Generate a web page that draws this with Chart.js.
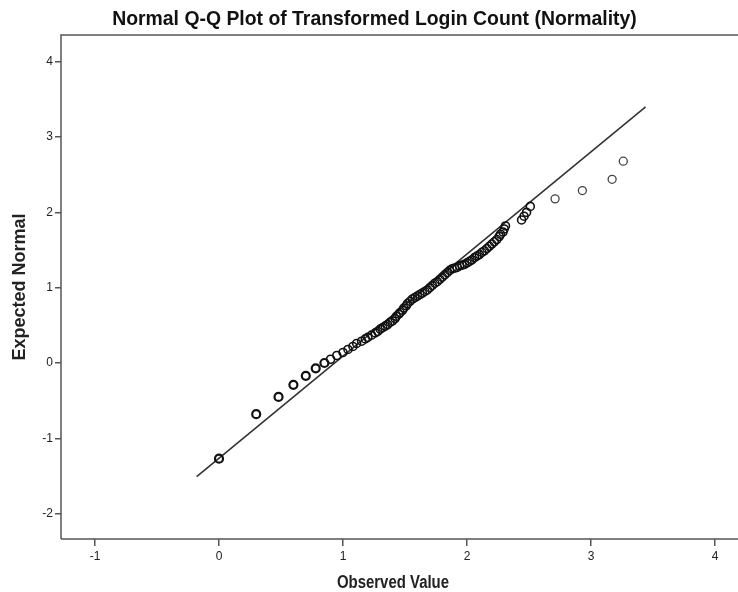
<!DOCTYPE html>
<html>
<head>
<meta charset="utf-8">
<script src="https://cdn.jsdelivr.net/npm/chart.js@4.4.1/dist/chart.umd.min.js"></script>
<style>
  html, body { margin: 0; padding: 0; background: #fff; overflow: hidden; }
  #wrap { width: 738px; height: 592px; }
  canvas { display: block; }
</style>
</head>
<body>
<div id="wrap"><canvas id="qq" width="738" height="592"></canvas></div>
<script>
// Q-Q plot values
const chartTitle = 'Normal Q-Q Plot of Transformed Login Count (Normality)';
const xTitle = 'Observed Value';
const yTitle = 'Expected Normal';
const xTicks = [-1, 0, 1, 2, 3, 4];
const yTicks = [-2, -1, 0, 1, 2, 3, 4];

const observed = [
  0.00, 0.30, 0.48, 0.60, 0.70, 0.78, 0.85, 0.90, 0.95, 1.00,
  1.04, 1.08, 1.11, 1.15, 1.18, 1.20, 1.23, 1.26, 1.28, 1.30,
  1.32, 1.34, 1.36, 1.38, 1.40, 1.42, 1.43, 1.45, 1.46, 1.48,
  1.49, 1.51, 1.52, 1.54, 1.56, 1.58, 1.60, 1.62, 1.64, 1.66,
  1.68, 1.70, 1.72, 1.74, 1.76, 1.78, 1.80, 1.82, 1.84, 1.86,
  1.88, 1.90, 1.92, 1.94, 1.96, 1.98, 2.00, 2.02, 2.04, 2.06,
  2.08, 2.10, 2.12, 2.14, 2.16, 2.18, 2.20, 2.22, 2.24, 2.26,
  2.27, 2.29, 2.30, 2.31, 2.44, 2.46, 2.48, 2.51, 2.71, 2.93,
  3.17, 3.26
];
const expected = [
  -1.27, -0.68, -0.45, -0.29, -0.17, -0.07, 0.00, 0.05, 0.10, 0.14,
  0.18, 0.22, 0.26, 0.29, 0.32, 0.34, 0.37, 0.40, 0.42, 0.45,
  0.47, 0.49, 0.51, 0.54, 0.56, 0.59, 0.62, 0.65, 0.67, 0.70,
  0.73, 0.76, 0.79, 0.82, 0.85, 0.87, 0.89, 0.91, 0.93, 0.95,
  0.97, 1.00, 1.03, 1.06, 1.08, 1.11, 1.14, 1.17, 1.20, 1.23,
  1.25, 1.26, 1.27, 1.29, 1.30, 1.31, 1.33, 1.35, 1.37, 1.40,
  1.42, 1.44, 1.47, 1.49, 1.52, 1.55, 1.58, 1.61, 1.64, 1.68,
  1.71, 1.74, 1.78, 1.82, 1.90, 1.95, 2.00, 2.08, 2.18, 2.29,
  2.44, 2.68
];

// reference line end points
const lineX = [-0.18, 3.44];
const lineY = [-1.51, 3.40];

const fontFamily = '"Liberation Sans", Arial, sans-serif';
Chart.defaults.font.family = fontFamily;
Chart.defaults.color = '#222';

// frame, chart title and a narrow bold x-axis title
const framePlugin = {
  id: 'frame',
  afterDraw(chart) {
    const { ctx, chartArea: a } = chart;
    ctx.save();
    ctx.strokeStyle = '#555';
    ctx.lineWidth = 1.5;
    ctx.beginPath();
    ctx.moveTo(a.left, a.bottom);
    ctx.lineTo(a.left, a.top);
    ctx.lineTo(a.right, a.top);
    ctx.moveTo(a.left, a.bottom);
    ctx.lineTo(a.right, a.bottom);
    ctx.stroke();
    ctx.fillStyle = '#111';
    ctx.font = 'bold 19.4px ' + fontFamily;
    ctx.textAlign = 'center';
    ctx.textBaseline = 'middle';
    ctx.fillText(chartTitle, 374.5, 20);

    ctx.fillStyle = '#222';
    ctx.font = 'bold 18px ' + fontFamily;
    ctx.translate(393, 583);
    ctx.scale(0.83, 1);
    ctx.fillText(xTitle, 0, 0);
    ctx.restore();
  }
};

const tickGrid = {
  drawOnChartArea: false,
  drawTicks: true,
  color: '#555',
  lineWidth: 1.5
};

new Chart(document.getElementById('qq'), {
  type: 'scatter',
  data: {
    datasets: [
      {
        data: observed.map((x, i) => ({ x: x, y: expected[i] })),
        pointStyle: 'circle',
        pointRadius: 4,
        borderColor: c => (c.raw && c.raw.x > 2.6 ? '#444' : '#111'),
        backgroundColor: 'rgba(0,0,0,0)',
        borderWidth: c => (c.raw && c.raw.x < 0.9 ? 2.2 : (c.raw && c.raw.x > 2.6 ? 1.3 : 1.6))
      },
      {
        data: lineX.map((x, i) => ({ x: x, y: lineY[i] })),
        showLine: true,
        pointRadius: 0,
        borderColor: '#333',
        borderWidth: 1.6
      }
    ]
  },
  options: {
    responsive: false,
    animation: false,
    layout: { autoPadding: false, padding: { top: 35, left: 0, right: 0, bottom: 0 } },
    plugins: {
      legend: { display: false },
      tooltip: { enabled: false }
    },
    scales: {
      x: {
        type: 'linear',
        min: -1.274,
        max: 4.185,
        afterBuildTicks: s => { s.ticks = xTicks.map(v => ({ value: v })); },
        afterFit: s => { s.height = 53; s.paddingLeft = 0; s.paddingRight = 0; },
        border: { display: false },
        grid: Object.assign({ tickLength: 7 }, tickGrid),
        ticks: { font: { size: 12 }, padding: 3, maxRotation: 0 },
        title: { display: false }
      },
      y: {
        type: 'linear',
        min: -2.337,
        max: 4.356,
        afterBuildTicks: s => { s.ticks = yTicks.map(v => ({ value: v })); },
        afterFit: s => { s.width = 61; },
        border: { display: false },
        grid: Object.assign({ tickLength: 6 }, tickGrid),
        ticks: { font: { size: 12 }, padding: 2 },
        title: {
          display: true,
          text: yTitle,
          font: { size: 18, weight: 'bold' },
          padding: { top: 9, bottom: 0 }
        }
      }
    }
  },
  plugins: [framePlugin]
});
</script>
</body>
</html>
